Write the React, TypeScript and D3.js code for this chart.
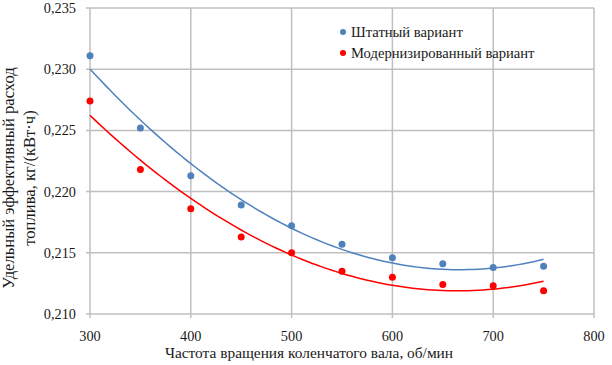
import { useEffect, useRef } from 'react';
import * as d3 from 'd3';

// Chart values
const rpm = [300, 350, 400, 450, 500, 550, 600, 650, 700, 750];
const standardSeries = [0.2311, 0.2252, 0.2213, 0.2189, 0.2172, 0.2157, 0.2146, 0.2141, 0.2138, 0.2139];
const modernSeries = [0.2274, 0.2218, 0.2186, 0.2163, 0.2150, 0.2135, 0.2130, 0.2124, 0.2123, 0.2119];
const xTicks = [300, 400, 500, 600, 700, 800];
const yTicks = [0.21, 0.215, 0.22, 0.225, 0.23, 0.235];
const seriesNames = ['Штатный вариант', 'Модернизированный вариант'];

// least squares 2nd order polynomial, like the spreadsheet trendline
const polyFit = (xs: number[], ys: number[]) => {
  const mx = d3.mean(xs) as number;
  const u = xs.map((x) => (x - mx) / 100);
  const s = [0, 1, 2, 3, 4].map((p) => d3.sum(u, (v) => v ** p));
  const t = [0, 1, 2].map((p) => d3.sum(u, (v, i) => v ** p * ys[i]));
  const A = [
    [s[0], s[1], s[2], t[0]],
    [s[1], s[2], s[3], t[1]],
    [s[2], s[3], s[4], t[2]],
  ];
  for (let i = 0; i < 3; i++) {
    for (let j = i + 1; j < 3; j++) {
      const f = A[j][i] / A[i][i];
      for (let k = i; k < 4; k++) A[j][k] -= f * A[i][k];
    }
  }
  const c = [0, 0, 0];
  for (let i = 2; i >= 0; i--) {
    let v = A[i][3];
    for (let k = i + 1; k < 3; k++) v -= A[i][k] * c[k];
    c[i] = v / A[i][i];
  }
  return (x: number) => {
    const w = (x - mx) / 100;
    return c[0] + c[1] * w + c[2] * w * w;
  };
};

const Chart = () => {
  const ref = useRef<SVGSVGElement>(null);

  useEffect(() => {
    if (!ref.current) return;
    const svg = d3.select(ref.current);
    svg.selectAll('*').remove();

    const left = 90;
    const right = 594;
    const top = 8;
    const bottom = 314;
    const font = 'Liberation Serif';

    const x = d3.scaleLinear().domain([300, 800]).range([left, right]);
    const y = d3.scaleLinear().domain([0.21, 0.235]).range([bottom, top]);

    svg.append('rect').attr('width', 612).attr('height', 365).attr('fill', '#fff');

    // grid
    const grid = svg.append('g').attr('stroke', '#bfbfbf').attr('stroke-width', 1.5);
    yTicks.forEach((t) => {
      grid.append('line').attr('x1', left - 4).attr('x2', right).attr('y1', y(t)).attr('y2', y(t));
    });
    xTicks.forEach((t) => {
      grid.append('line').attr('x1', x(t)).attr('x2', x(t)).attr('y1', top).attr('y2', bottom + 4);
    });

    const txt = (size: number) => (sel: d3.Selection<any, any, any, any>) =>
      sel.attr('font-family', font).attr('font-size', size).attr('fill', '#1a1a1a');

    // tick labels
    svg
      .append('g')
      .selectAll('text')
      .data(yTicks)
      .join('text')
      .attr('x', left - 14)
      .attr('y', (d) => y(d))
      .attr('dy', '0.35em')
      .attr('text-anchor', 'end')
      .call(txt(14.3))
      .text((d) => d3.format('.3f')(d).replace('.', ','));

    svg
      .append('g')
      .selectAll('text')
      .data(xTicks)
      .join('text')
      .attr('x', (d) => x(d))
      .attr('y', bottom + 27)
      .attr('text-anchor', 'middle')
      .call(txt(14.3))
      .text((d) => d);

    // axis titles
    svg
      .append('text')
      .attr('x', 309)
      .attr('y', 358)
      .attr('text-anchor', 'middle')
      .call(txt(15.4))
      .text('Частота вращения коленчатого вала, об/мин');

    ['Удельный эффективный расход', 'топлива, кг/(кВт·ч)'].forEach((line, i) => {
      svg
        .append('text')
        .attr('transform', `translate(${14 + i * 21},178) rotate(-90)`)
        .attr('text-anchor', 'middle')
        .call(txt(16.6))
        .text(line);
    });

    const series = [
      { values: standardSeries, color: '#4f81bd' },
      { values: modernSeries, color: '#ff0000' },
    ];

    series.forEach((s) => {
      const fit = polyFit(rpm, s.values);
      const xs = d3.range(300, 750.1, 5);
      const line = d3
        .line<number>()
        .x((d) => x(d))
        .y((d) => y(fit(d)));
      svg
        .append('path')
        .datum(xs)
        .attr('fill', 'none')
        .attr('stroke', s.color)
        .attr('stroke-width', 1.5)
        .attr('d', line);

      svg
        .append('g')
        .selectAll('circle')
        .data(s.values)
        .join('circle')
        .attr('cx', (_, i) => x(rpm[i]))
        .attr('cy', (d) => y(d))
        .attr('r', 3.5)
        .attr('fill', s.color);
    });

    // legend
    const legend = svg.append('g').attr('transform', 'translate(343,32)');
    seriesNames.forEach((name, i) => {
      legend
        .append('circle')
        .attr('cx', 0)
        .attr('cy', i * 21)
        .attr('r', 3)
        .attr('fill', series[i].color);
      legend
        .append('text')
        .attr('x', 8)
        .attr('y', i * 21)
        .attr('dy', '0.35em')
        .call(txt(14.6))
        .text(name);
    });
  }, []);

  return (
    <svg
      ref={ref}
      width={612}
      height={365}
      style={{ position: 'absolute', left: 0, top: 0, display: 'block' }}
    />
  );
};

export default function App() {
  return <Chart />;
}
